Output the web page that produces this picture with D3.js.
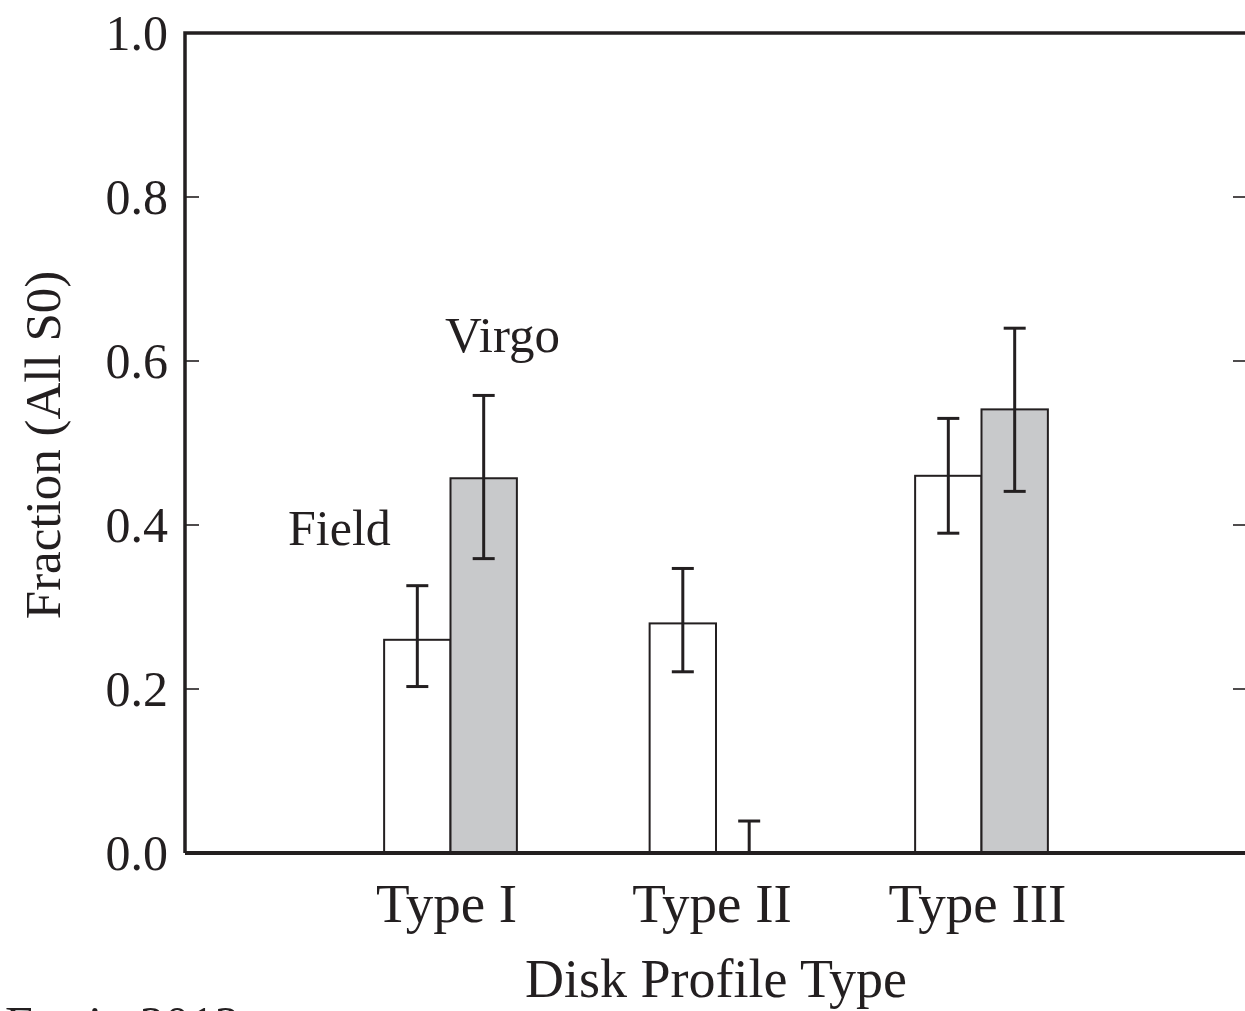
<!DOCTYPE html>
<html><head><meta charset="utf-8">
<script src="https://cdn.jsdelivr.net/npm/d3@7"></script>
<style>body{margin:0;background:#fff;}svg{display:block;}text{font-family:"Liberation Serif","Times New Roman",serif;fill:#231f20;}</style>
</head><body>
<script>
const categories = ["Type I", "Type II", "Type III"];
const fieldValues = [0.26, 0.28, 0.46];
const fieldErrLow = [0.203, 0.221, 0.39];
const fieldErrHigh = [0.326, 0.347, 0.53];
const virgoValues = [0.457, 0.0, 0.541];
const virgoErrLow = [0.359, 0.0, 0.441];
const virgoErrHigh = [0.558, 0.039, 0.64];
const yTicks = [0.0, 0.2, 0.4, 0.6, 0.8, 1.0];

const W = 1245, H = 1011;
const ink = "#231f20";
const svg = d3.select("body").append("svg").attr("width", W).attr("height", H);

const x = d3.scaleLinear().domain([0, 4]).range([185, 1247]);
const y = d3.scaleLinear().domain([0, 1]).range([853, 33]);
const barW = x(1) - x(0.75);

const g = svg.append("g");
g.selectAll("line.tl").data(yTicks.filter(v => v > 0 && v < 1)).enter().append("line")
  .attr("x1", x(0)).attr("x2", x(0) + 14).attr("y1", d => y(d)).attr("y2", d => y(d))
  .attr("stroke", ink).attr("stroke-width", 1.6);
g.selectAll("line.tr").data(yTicks.filter(v => v > 0 && v < 1)).enter().append("line")
  .attr("x1", x(4)).attr("x2", x(4) - 14).attr("y1", d => y(d)).attr("y2", d => y(d))
  .attr("stroke", ink).attr("stroke-width", 1.6);

g.selectAll("text.yt").data(yTicks).enter().append("text")
  .attr("x", 168).attr("y", d => y(d) + 17)
  .attr("text-anchor", "end").attr("font-size", 50)
  .text(d => d.toFixed(1));

const idx = d3.range(categories.length);
g.selectAll("rect.field").data(idx).enter().append("rect")
  .attr("x", i => x(i + 1) - barW).attr("width", barW)
  .attr("y", i => y(fieldValues[i])).attr("height", i => y(0) - y(fieldValues[i]))
  .attr("fill", "#ffffff").attr("stroke", ink).attr("stroke-width", 2);
g.selectAll("rect.virgo").data(idx.filter(i => virgoValues[i] > 0)).enter().append("rect")
  .attr("x", i => x(i + 1)).attr("width", barW)
  .attr("y", i => y(virgoValues[i])).attr("height", i => y(0) - y(virgoValues[i]))
  .attr("fill", "#c8c9cb").attr("stroke", ink).attr("stroke-width", 2);

function errBar(cx, lo, hi) {
  const e = g.append("g").attr("stroke", ink).attr("stroke-width", 3);
  e.append("line").attr("x1", cx).attr("x2", cx).attr("y1", y(lo)).attr("y2", y(hi));
  e.append("line").attr("x1", cx - 11).attr("x2", cx + 11).attr("y1", y(hi)).attr("y2", y(hi));
  if (lo > 0) e.append("line").attr("x1", cx - 11).attr("x2", cx + 11).attr("y1", y(lo)).attr("y2", y(lo));
}
idx.forEach(i => {
  errBar(x(i + 1) - barW / 2, fieldErrLow[i], fieldErrHigh[i]);
  errBar(x(i + 1) + barW / 2, virgoErrLow[i], virgoErrHigh[i]);
});

g.append("path").attr("d", `M${x(0)},${y(0)}V${y(1)}H${W + 10}`)
  .attr("fill", "none").attr("stroke", ink).attr("stroke-width", 3.5);
g.append("line").attr("x1", x(0)).attr("x2", W + 10).attr("y1", y(0)).attr("y2", y(0))
  .attr("stroke", ink).attr("stroke-width", 4);

g.selectAll("text.cat").data(categories).enter().append("text")
  .attr("x", (d, i) => x(i + 1) - 4).attr("y", 922)
  .attr("text-anchor", "middle").attr("font-size", 55)
  .text(d => d);

svg.append("text").attr("x", 716).attr("y", 997).attr("text-anchor", "middle")
  .attr("font-size", 54).text("Disk Profile Type");
svg.append("text").attr("transform", "translate(60,445) rotate(-90)")
  .attr("text-anchor", "middle").attr("font-size", 51).text("Fraction (All S0)");

svg.append("text").attr("x", 288).attr("y", 545).attr("font-size", 50).text("Field");
svg.append("text").attr("x", 445).attr("y", 352).attr("font-size", 51).text("Virgo");

svg.append("text").attr("x", 5).attr("y", 1041).attr("font-size", 50).text("Erwin 2012");
</script>
</body></html>
